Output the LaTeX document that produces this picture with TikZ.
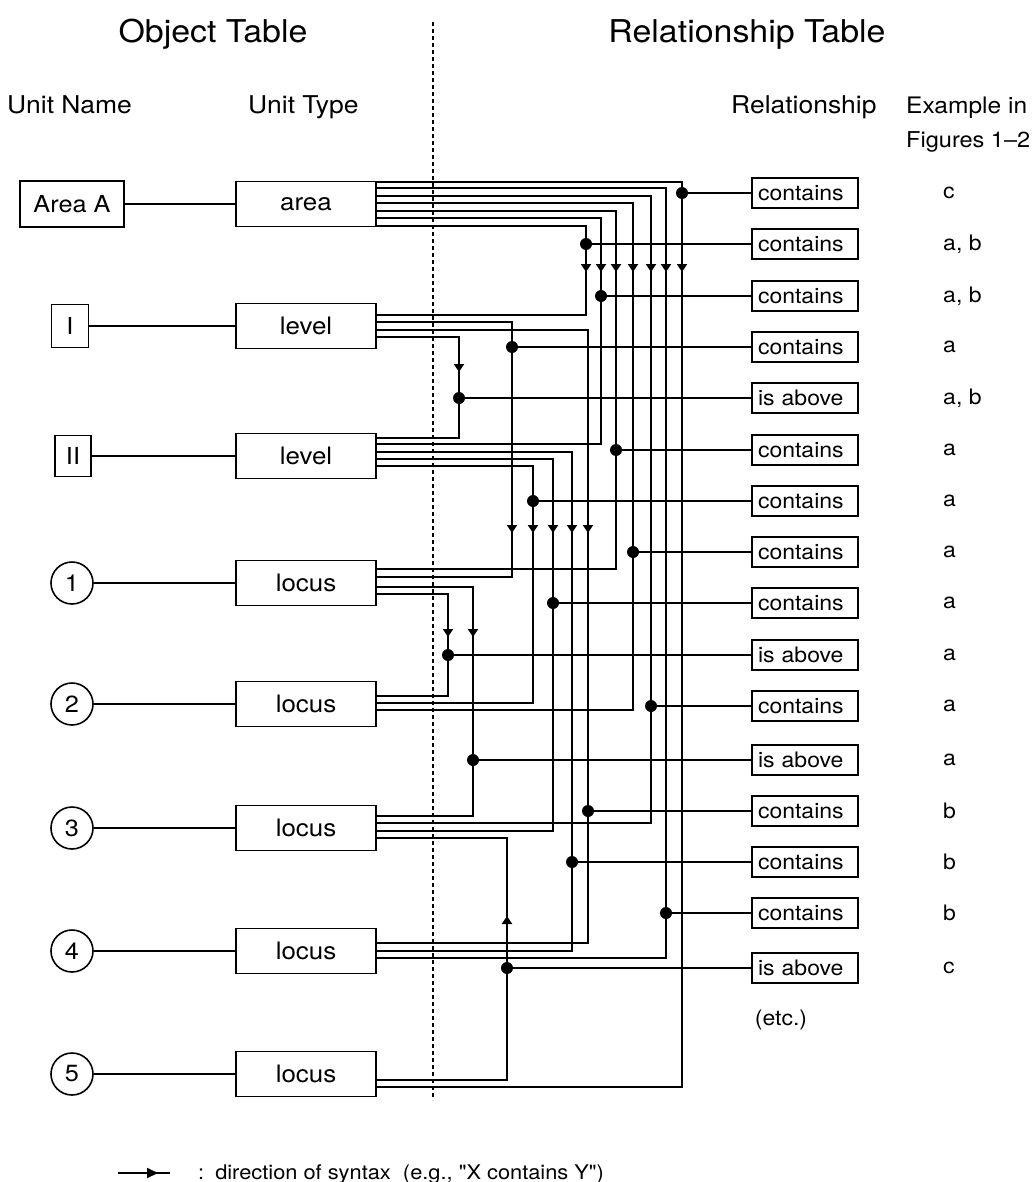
\documentclass[tikz,border=0pt]{standalone}
\usepackage{fontspec}
\setmainfont{TeX Gyre Heros}[FakeStretch=1.08]
\newfontfamily\plainq{TeX Gyre Heros}[FakeStretch=1.08]
\usetikzlibrary{arrows.meta}

\tikzset{
  wire/.style={line width=1.9pt},
  link/.style={line width=1.4pt},
  title/.style={anchor=base, inner sep=0pt, font=\fontsize{31.4}{36}\selectfont},
  colhead/.style={anchor=base west, inner sep=0pt, font=\fontsize{24.5}{29}\selectfont},
  namebox/.style={draw, line width=1.8pt, inner sep=0pt, font=\fontsize{23.4}{27}\selectfont},
  namecirc/.style={draw, circle, line width=1.6pt, minimum size=42pt, inner sep=0pt,
    font=\fontsize{23.4}{27}\selectfont},
  typebox/.style={draw, line width=1.8pt, minimum width=140pt, minimum height=45pt,
    inner sep=0pt, font=\fontsize{24}{28}\selectfont},
  relbox/.style={draw, line width=1.6pt, text width=94pt, align=left, inner xsep=6pt,
    inner ysep=0pt, minimum height=30pt, font=\fontsize{21.3}{25}\selectfont},
  extext/.style={anchor=west, inner sep=0pt, font=\fontsize{21.3}{25}\selectfont},
  tip/.style={wire, -{Triangle[width=10pt,length=8pt]}},
}

% #1 source, #2 y out, #3 column, #4 target, #5 y in, #6 relation, #7/#8 arrow from/to
\newcommand\linkrel[8]{%
  \draw[wire] (#1.east |- 0,#2) -| (#3,#5) -- (#4.east |- 0,#5);
  \draw[wire] (#3,0 |- #6.west) -- (#6.west);
  \fill (#3,0 |- #6.west) circle (6pt);
  \draw[tip] (#3,#7) -- (#3,#8);
}

\begin{document}
\begin{tikzpicture}[x=1pt,y=-1pt]
  \useasboundingbox (0,0) rectangle (1031,1182);

  % headings
  \node[title] (hObj) at (213,43) {Object Table};
  \node[title] (hRel) at (747,43) {Relationship Table};
  \node[colhead] (hName) at (7,114) {Unit Name};
  \node[colhead] (hType) at (248,114) {Unit Type};
  \node[colhead] (hRship) at (731,114) {Relationship};
  \node[colhead, font=\fontsize{22.7}{27}\selectfont] (hEx) at (906,114) {Example in};
  \node[colhead, font=\fontsize{21.8}{27}\selectfont] (hFig) at (906,148) {Figures 1--2};

  % separator
  \coordinate (sepTop) at (433,22);
  \coordinate (sepBot) at (433,1100);
  \draw[line width=1.6pt, dash pattern=on 4pt off 3pt] (sepTop) -- (sepBot);

  % object table: unit names
  \node[namebox, minimum width=104pt, minimum height=46pt] (nArea) at (72,204) {Area A};
  \node[namebox, minimum width=37pt, minimum height=43pt] (nLevI) at (70,326) {I};
  \node[namebox, minimum width=36pt, minimum height=41pt] (nLevII) at (73,456) {II};
  \foreach \i/\yy in {1/583,2/704,3/828,4/951,5/1074}
    \node[namecirc] (nLoc\i) at (72,\yy) {\i};

  % object table: unit types
  \node[typebox] (tArea) at (306,204) {area};
  \node[typebox] (tLevI) at (306,326) {level};
  \node[typebox] (tLevII) at (306,456) {level};
  \foreach \i/\yy in {1/583,2/704,3/828,4/951,5/1074}
    \node[typebox] (tLoc\i) at (306,\yy) {locus};

  \draw[link] (nArea) -- (tArea);
  \draw[link] (nLevI) -- (tLevI);
  \draw[link] (nLevII) -- (tLevII);
  \foreach \i in {1,...,5}
    \draw[link] (nLoc\i) -- (tLoc\i);

  % relationship table
  \foreach \rel/\ex/\yy [count=\i] in {contains/c/193, contains/{a, b}/244,
      contains/{a, b}/296, contains/a/347, is above/{a, b}/398, contains/a/450,
      contains/a/501, contains/a/552, contains/a/603, is above/a/655,
      contains/a/706, is above/a/760, contains/b/811, contains/b/862,
      contains/b/913, is above/c/968} {
    \node[relbox] (r\i) at (805,\yy) {\rel};
    \node[extext] (e\i) at (943,\yy) {\ex};
  }
  \node[extext, anchor=center] (etc) at (781,1020) {(etc.)};

  % wiring
  \linkrel{tArea}{182}{682}{tLoc5}{1087}{r1}{263}{272}
  \linkrel{tArea}{188}{666}{tLoc4}{958}{r15}{263}{272}
  \linkrel{tArea}{196}{651}{tLoc3}{823}{r11}{263}{272}
  \linkrel{tArea}{203}{633}{tLoc2}{710}{r8}{263}{272}
  \linkrel{tArea}{211}{616}{tLoc1}{569}{r6}{263}{272}
  \linkrel{tArea}{218}{601}{tLevII}{444}{r3}{263}{272}
  \linkrel{tArea}{226}{586}{tLevI}{315}{r2}{263}{272}
  \linkrel{tLevI}{322}{512}{tLoc1}{577}{r4}{524}{533}
  \linkrel{tLevI}{330}{588}{tLoc4}{943}{r13}{524}{533}
  \linkrel{tLevI}{337}{459}{tLevII}{438}{r5}{363}{372}
  \linkrel{tLevII}{452}{572}{tLoc4}{951}{r14}{524}{533}
  \linkrel{tLevII}{459}{553}{tLoc3}{831}{r9}{524}{533}
  \linkrel{tLevII}{466}{533}{tLoc2}{703}{r7}{524}{533}
  \linkrel{tLoc1}{587}{473}{tLoc3}{816}{r12}{628}{637}
  \linkrel{tLoc1}{594}{448}{tLoc2}{696}{r10}{628}{637}
  \linkrel{tLoc3}{838}{507}{tLoc5}{1080}{r16}{925}{916}

  % legend
  \coordinate (lgA) at (118,1173);
  \coordinate (lgB) at (170,1173);
  \coordinate (lgTip) at (158,1173);
  \draw[wire] (lgA) -- (lgB);
  \draw[tip, -{Triangle[width=10pt,length=11pt]}] (lgA) -- (lgTip);
  \node[anchor=base west, inner sep=0pt, font=\fontsize{20.2}{24}\selectfont] (lgText)
    at (198,1179) {:\hspace{11pt}direction of syntax\ \ (e.g., {\plainq "}X contains Y{\plainq "})};
\end{tikzpicture}
\end{document}
